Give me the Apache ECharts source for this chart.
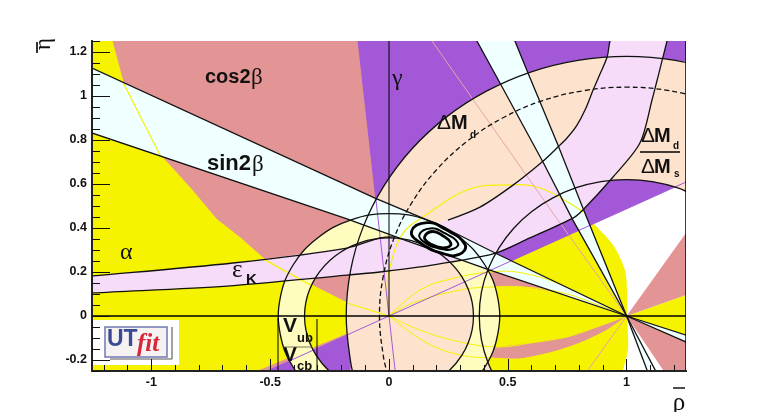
<!DOCTYPE html>
<html><head><meta charset="utf-8">
<script src="https://cdn.jsdelivr.net/npm/echarts@6/dist/echarts.min.js"></script>
<style>html,body{margin:0;padding:0;background:#fff}#c{width:763px;height:412px}</style>
</head><body><div id="c"></div>
<script>
// axis ticks
const xMajor=[-1,-0.5,0,0.5,1];
const xMinor=[-1.2,-1.1,-0.9,-0.8,-0.7,-0.6,-0.4,-0.3,-0.2,-0.1,0.1,0.2,0.3,0.4,0.6,0.7,0.8,0.9,1.1,1.2];
const yMajor=[-0.2,0,0.2,0.4,0.6,0.8,1,1.2];
const yMinor=[-0.25,-0.15,-0.1,-0.05,0.05,0.1,0.15,0.25,0.3,0.35,0.45,0.5,0.55,0.65,0.7,0.75,0.85,0.9,0.95,1.05,1.1,1.15,1.25];

// alpha constraint
const alphaLeftCurve=[[-1.166,1.25],[-1.12,1.064],[-0.964,0.732],[-0.838,0.582],[-0.724,0.436],[-0.627,0.355],[-0.522,0.255],[-0.354,0.155],[-0.177,0.059],[0,0]];
const alphaLeftFill=[[-1.3,1.3],[-1.17,1.3],...alphaLeftCurve,[-0.62,-0.302],[-1.3,-0.3]];
const alphaRightCurve=[[0,0],[-0.008,0.118],[0.004,0.223],[0.059,0.377],[0.143,0.45],[0.328,0.573],[0.48,0.595],[0.636,0.582],[0.816,0.473]];
const alphaRightEdge=[[0.859,0.423],[0.943,0.323],[0.993,0.209],[1.002,0.109],[1.002,0],[1.006,-0.145],[0.985,-0.245],[0.97,-0.3],[0.3,-0.3]];
const alphaWedgeRight=[[1,0],[1.3,0.114],[1.3,-0.104]];
const alphaUpperA=[[0,0],[0.13,0.118],[0.244,0.164],[0.425,0.2],[0.564,0.195],[0.749,0.132],[1,0]];
const alphaUpperB=[[0,0],[0.1,0.059],[0.3,0.118],[0.433,0.132],[0.564,0.132],[0.732,0.105],[0.859,0.059],[1,0]];
const alphaLowerA=[[0,0],[0.13,-0.064],[0.3,-0.118],[0.459,-0.141],[0.593,-0.123],[0.749,-0.095],[0.875,-0.05],[1,0]];
const alphaLowerB=[[0,0],[0.16,-0.123],[0.3,-0.177],[0.433,-0.191],[0.551,-0.195],[0.69,-0.164],[0.804,-0.123],[0.918,-0.064],[1,0]];

// cos2beta regions
const cosMain=[...alphaLeftCurve,[0.1,0.6],[0.181,1.3],[-1.17,1.3]];
const cosRightUp=[[1,0],[1.3,0.453],[1.3,0.114]];
const cosRightDown=[[1,0],[1.3,-0.142],[1.3,-0.3],[1.1875,-0.3]];
const cosSliver=[[0,0],[-0.62,-0.302],[-0.62,-0.279]];
const cosLineUp=[[0.181,1.25],[0.349,0.991],[0.711,0.436],[1,0]];
const cosLineDown=[[1,0],[0.838,-0.245]];

// gamma wedge
const gammaFill=[[0,0],[-0.13,1.25],[-0.136,1.3],[1.3,1.3],[1.3,0.633],[0,0],[-0.62,-0.302],[0.032,-0.302]];
const gammaLineA=[[-0.13,1.25],[0,0],[0.026,-0.25]];
const gammaLineB=[[-0.513,-0.25],[0,0],[1.25,0.609]];

// Delta m_d circles
const dmOuter=[[-0.14,-0.306],[-0.162,-0.205],[-0.18,0],[-0.162,0.205],[-0.109,0.404],[-0.022,0.59],[0.096,0.759],[0.241,0.904],[0.41,1.022],[0.596,1.109],[0.795,1.162],[1,1.18],[1.205,1.162],[1.404,1.109]];
const dmInner=[[0.525,-0.399],[0.463,-0.31],[0.417,-0.212],[0.389,-0.108],[0.38,0],[0.389,0.108],[0.417,0.212],[0.463,0.31],[0.525,0.399],[0.601,0.475],[0.69,0.537],[0.788,0.583],[0.892,0.611],[1,0.62],[1.108,0.611],[1.212,0.583],[1.31,0.537]];
const dmDashed=[[-0.005,-0.269],[-0.024,-0.181],[-0.04,0],[-0.024,0.181],[0.022,0.356],[0.099,0.52],[0.203,0.668],[0.332,0.797],[0.48,0.901],[0.644,0.978],[0.819,1.024],[1,1.04],[1.181,1.024],[1.356,0.978]];

// Vub/Vcb ring
const vubOuter=[[0,-0.465],[0.159,-0.437],[0.299,-0.356],[0.403,-0.233],[0.458,-0.081],[0.458,0.081],[0.403,0.233],[0.299,0.356],[0.159,0.437],[0,0.465],[-0.159,0.437],[-0.299,0.356],[-0.403,0.233],[-0.458,0.081],[-0.458,-0.081],[-0.403,-0.233],[-0.299,-0.356],[-0.159,-0.437],[0,-0.465]];
const vubInner=[[0,-0.355],[0.121,-0.334],[0.228,-0.272],[0.307,-0.178],[0.35,-0.062],[0.35,0.062],[0.307,0.178],[0.228,0.272],[0.121,0.334],[0,0.355],[-0.121,0.334],[-0.228,0.272],[-0.307,0.178],[-0.35,0.062],[-0.35,-0.062],[-0.307,-0.178],[-0.228,-0.272],[-0.121,-0.334],[0,-0.355]];

// epsilon_K band
const epsLower=[[-1.3,0.1],[-1.246,0.105],[-0.682,0.136],[-0.177,0.186],[-0.038,0.2],[0.13,0.223],[0.438,0.282],[0.593,0.355],[0.774,0.445],[0.816,0.482],[0.943,0.632],[1.056,0.786],[1.107,0.982],[1.153,1.177],[1.17,1.25],[1.19,1.35]];
const epsUpperRight=[[0.96,1.35],[0.93,1.25],[0.918,1.177],[0.888,1.10],[0.859,1.027],[0.825,0.936],[0.79,0.865],[0.75,0.81],[0.711,0.768],[0.644,0.7],[0.522,0.595],[0.383,0.495],[0.248,0.436]];
const epsUpperLeft=[[0.02,0.36],[-0.038,0.355],[-0.177,0.309],[-0.657,0.241],[-1.246,0.182],[-1.3,0.178]];

// sin2beta bands
const sinUpper=[[-1.3,1.15],[-1.25,1.127],[-0.059,0.536],[0.202,0.418],[0.455,0.282],[1,0]];
const sinLower=[[-1.3,0.815],[-1.25,0.832],[-0.177,0.441],[0.076,0.341],[0.425,0.209],[1,0]];
const steepLeft=[[0.355,1.3],[0.37,1.25],[0.467,1.059],[0.648,0.7],[0.774,0.436],[1,0]];
const steepRight=[[0.52,1.3],[0.53,1.25],[0.585,1.105],[0.711,0.777],[0.816,0.491],[1,0]];
const lowRightA=[[1,0],[1.3,-0.104]];
const lowRightB=[[1,0],[1.3,-0.142]];
const lowDownA=[[1,0],[1.105,-0.3]];
const lowDownB=[[1,0],[1.147,-0.3]];

// fit contours
const contourOuter=[[0.095,0.385],[0.16,0.424],[0.235,0.395],[0.32,0.325],[0.295,0.28],[0.225,0.285],[0.135,0.33]];
const contourMiddle=[[0.128,0.37],[0.173,0.398],[0.23,0.379],[0.29,0.332],[0.271,0.306],[0.213,0.306],[0.148,0.336]];
const contourInner=[[0.15,0.36],[0.181,0.384],[0.225,0.366],[0.26,0.332],[0.246,0.312],[0.2,0.316],[0.162,0.336]];

// reference lines
const etaZero=[[-1.25,0],[1.25,0]];
const rhoZero=[[0,0],[0,1.25]];
const frameRight=[[1.25,-0.25],[1.25,1.25]];

const YEL='#f5f300',ROSE='#e39595',PUR='#a358d8',TAN='#fde3cd',EPS='#f6dcf8',CYA='#f0ffff',PALE='#fffcc0';

function shape(pts,o){
  return {type:'custom',coordinateSystem:'cartesian2d',clip:true,silent:true,data:pts,
    encode:{x:0,y:1},
    renderItem:function(p,api){
      if(p.dataIndex!==0) return;
      const points=pts.map(function(q){return api.coord(q);});
      return {type:o.open?'polyline':'polygon',shape:{points:points,smooth:o.smooth||0},
        style:{fill:o.open?null:o.fill,stroke:o.stroke||null,lineWidth:o.lw||1,lineDash:o.dash||null}};
    }};
}
const fill=(p,c,s)=>shape(p,{fill:c,smooth:s});
const line=(p,c,w,s,d)=>shape(p,{open:true,stroke:c||'#000',lw:w||1,smooth:s,dash:d});
const loop=(p,w)=>shape(p,{fill:'none',stroke:'#000',lw:w,smooth:0.5});
const K='#111',LW=1.3;

const series=[
  fill(alphaLeftFill,YEL),
  fill([...alphaRightCurve,...alphaRightEdge],YEL,0.3),
  fill(alphaWedgeRight,YEL),
  fill(cosMain,ROSE),
  fill(cosRightUp,ROSE),
  fill(cosRightDown,ROSE),
  fill(cosSliver,ROSE),
  fill([...alphaUpperA,...alphaUpperB.slice().reverse()],ROSE),
  fill([...alphaLowerA,...alphaLowerB.slice().reverse()],ROSE),
  fill(gammaFill,PUR),
  fill([...dmOuter,...dmInner.slice().reverse()],TAN,0.4),
  fill([...vubOuter,...vubInner.slice().reverse()],PALE,0.4),
  fill([...epsLower,...epsUpperRight,...epsUpperLeft],EPS),
  fill([...sinUpper,...sinLower.slice().reverse()],CYA),
  fill([...steepLeft,...steepRight.slice().reverse()],CYA),
  fill([...lowRightA,...lowRightB.slice().reverse()],CYA),
  fill([...lowDownA,...lowDownB.slice().reverse()],CYA),
  line(alphaLeftCurve,YEL,1.2),
  line(alphaRightCurve,YEL,1.2,0.4),
  line(alphaUpperA,YEL,1,0.4),line(alphaUpperB,YEL,1,0.4),line(alphaLowerA,YEL,1,0.4),line(alphaLowerB,YEL,1,0.4),
  line(cosLineUp,'#e8a4a4',1),line(cosLineDown,'#e8a4a4',1),
  line(gammaLineA,PUR,1),line(gammaLineB,PUR,1),
  line(dmOuter,K,LW,0.4),line(dmInner,K,LW,0.4),line(dmDashed,K,LW,0.4,[5,3]),
  line(vubOuter,K,LW,0.4),line(vubInner,K,LW,0.4),
  line(epsLower,K,LW,0.3),line(epsUpperRight,K,LW,0.3),line(epsUpperLeft,K,LW,0.3),
  line(sinUpper,K,LW),line(sinLower,K,LW),line(steepLeft,K,LW),line(steepRight,K,LW),
  line(lowRightA,K,LW),line(lowRightB,K,LW),line(lowDownA,K,LW),line(lowDownB,K,LW),
  loop(contourOuter,2.8),loop(contourMiddle,2),loop(contourInner,2.8),
  line(etaZero,'#000',1.6),line(rhoZero,'#000',1),line(frameRight,'#000',1.5)
];

const SANS='"Liberation Sans",Arial,sans-serif',SERIF='"Liberation Serif",serif';
function txt(x,y,t,font,extra){
  return Object.assign({type:'text',z:6,x:x,y:y,style:{text:t,font:font,fill:'#111',align:(extra&&extra.align)||'left',verticalAlign:'middle'}},extra&&extra.rotation?{rotation:extra.rotation}:{});
}
function bar(x1,y1,x2,y2,c,w){return {type:'line',z:6,shape:{x1,y1,x2,y2},style:{stroke:c||'#000',lineWidth:w||1}};}
const B=n=>'bold '+n+'px '+SANS, R=n=>n+'px '+SERIF, S=n=>n+'px '+SANS;

const graphics=[
  // logo
  {type:'rect',z:5,shape:{x:93,y:320,width:86,height:45},style:{fill:'#fff'}},
  {type:'rect',z:6,shape:{x:105,y:327,width:62,height:30},style:{fill:'#f6f2f2',stroke:'#7078b0',lineWidth:1.5}},
  bar(172,327,172,359,'#444',1),bar(110,359,172,359,'#555',1),
  Object.assign(txt(107,340,'UT','bold 23px '+SANS),{z:7}),
  Object.assign(txt(137,345,'fit','italic bold 25px '+SERIF),{z:7}),
  // labels
  txt(205,77,'cos2',B(20)),txt(251,78,'β',R(23)),
  txt(207,164,'sin2',B(22)),txt(252,165,'β',R(23)),
  txt(392,79,'γ',R(24)),
  txt(437,123,'Δ',S(21)),txt(451,123,'M',B(20)),txt(470,135,'d',B(10)),
  txt(641,136,'Δ',S(21)),txt(654,136,'M',B(20)),txt(673,146,'d',B(10)),
  bar(640,152,680,152,'#000',1.5),
  txt(641,167,'Δ',S(21)),txt(654,167,'M',B(20)),txt(674,174,'s',B(10)),
  txt(120,253,'α',R(24)),
  txt(232,270,'ε',R(25)),txt(246,280,'K',B(15)),
  txt(283,326,'V',B(21)),txt(297,338,'ub',B(13)),
  txt(283,355,'V',B(21)),txt(297,366,'cb',B(13)),
  bar(278,318,278,370,'#000',1),bar(317,319,317,370,'#000',1),
  bar(283,347,312,347,'#554',0.8),
  // axis titles
  txt(679,403,'ρ',R(25),{align:'center'}),bar(673,388,685,388,'#000',1.4),
  txt(44,50,'η',R(23),{rotation:Math.PI/2}),bar(37,42,37,53,'#000',1.6)
];
// colour the logo letters
graphics[4].style.fill='#3a4a92';graphics[5].style.fill='#d8263a';

const axisCommon={type:'value',z:10,splitLine:{show:false},axisLine:{show:true,onZero:false,lineStyle:{color:'#222',width:2}}};
const labelFont={show:true,fontFamily:SANS,fontWeight:'bold',fontSize:12.5,color:'#111',showMinLabel:true,showMaxLabel:true};

const option={
  animation:false,backgroundColor:'#fff',
  grid:{left:92,top:41,width:594,height:330,containLabel:false},
  xAxis:[
    Object.assign({},axisCommon,{min:-1.25,max:1.25,position:'bottom',
      axisTick:{show:true,inside:true,length:12,lineStyle:{color:'#111',width:1},customValues:xMajor},
      axisLabel:Object.assign({},labelFont,{margin:5,customValues:xMajor,formatter:v=>String(v)})}),
    Object.assign({},axisCommon,{min:-1.25,max:1.25,position:'bottom',
      axisTick:{show:true,inside:true,length:6,lineStyle:{color:'#111',width:1},customValues:xMinor},
      axisLabel:{show:false}})
  ],
  yAxis:[
    Object.assign({},axisCommon,{min:-0.25,max:1.25,position:'left',
      axisTick:{show:true,inside:true,length:18,lineStyle:{color:'#111',width:1},customValues:yMajor},
      axisLabel:Object.assign({},labelFont,{margin:5,customValues:yMajor,formatter:v=>String(v)})}),
    Object.assign({},axisCommon,{min:-0.25,max:1.25,position:'left',
      axisTick:{show:true,inside:true,length:8,lineStyle:{color:'#111',width:1},customValues:yMinor},
      axisLabel:{show:false}})
  ],
  graphic:{elements:graphics},
  series:series
};
echarts.init(document.getElementById('c'),null,{renderer:'canvas'}).setOption(option);
</script></body></html>
